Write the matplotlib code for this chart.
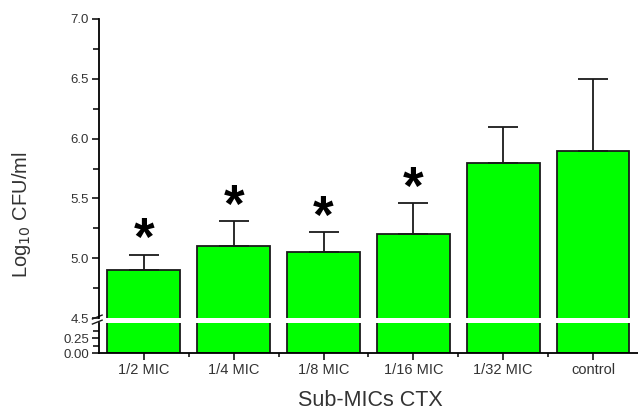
import numpy as np
import matplotlib.pyplot as plt

plt.rcParams['font.family'] = ['Liberation Sans', 'DejaVu Sans']

groups = ['1/2 MIC', '1/4 MIC', '1/8 MIC', '1/16 MIC', '1/32 MIC', 'control']
means = [4.90, 5.10, 5.05, 5.20, 5.80, 5.90]
errs = [0.13, 0.21, 0.17, 0.26, 0.30, 0.60]
signif = [True, True, True, True, False, False]

x = np.arange(len(groups))
green = '#00ff00'
edge = '#1a1a1a'
txt = '#333333'

fig = plt.figure(figsize=(6.38, 4.12), dpi=100)
ax_top = fig.add_axes([0.155, 0.228, 0.845, 0.726])
ax_bot = fig.add_axes([0.155, 0.143, 0.845, 0.073])

for ax in (ax_top, ax_bot):
    ax.bar(x, means, width=0.81, color=green, edgecolor=edge, linewidth=1.3)
    ax.set_xlim(-0.5, 5.5)
    ax.spines['top'].set_visible(False)
    ax.spines['right'].set_visible(False)
    ax.tick_params(axis='y', direction='out', length=5, width=1.1, labelsize=9.5,
                   labelcolor=txt, pad=2)
    ax.tick_params(axis='y', which='minor', direction='out', length=4, width=1.1)

# error bars (upper only) on the top part
ax_top.errorbar(x, means, yerr=[np.zeros(len(errs)), errs], fmt='none',
                ecolor=edge, elinewidth=1.3, capsize=11, capthick=1.3)
for xi, m, e, s in zip(x, means, errs, signif):
    if s:
        ax_top.annotate('*', xy=(xi, m + e), xytext=(0, -0.5), textcoords='offset points',
                        ha='center', va='baseline', fontsize=38, fontweight='bold',
                        color='black')

ax_top.set_ylim(4.5, 7.0)
ax_top.set_yticks([4.5, 5.0, 5.5, 6.0, 6.5, 7.0])
ax_top.set_yticks(np.arange(4.75, 7.0, 0.5), minor=True)
ax_top.set_yticklabels(['4.5', '5.0', '5.5', '6.0', '6.5', '7.0'])
ax_top.spines['bottom'].set_visible(False)
ax_top.set_xticks([])
ax_top.spines['left'].set_linewidth(1.3)

ax_bot.set_ylim(0, 0.5)
ax_bot.set_yticks([0.0, 0.25])
ax_bot.set_yticks([0.125, 0.375], minor=True)
ax_bot.set_yticklabels(['0.00', '0.25'])
ax_bot.spines['left'].set_linewidth(1.3)
ax_bot.spines['bottom'].set_linewidth(1.3)
ax_bot.set_xticks(x)
ax_bot.set_xticklabels(groups, fontsize=10.5, color=txt)
ax_bot.set_xticks(x[:-1] + 0.5, minor=True)
ax_bot.tick_params(axis='x', direction='out', length=5, width=1.1, pad=2)
ax_bot.tick_params(axis='x', which='minor', direction='out', length=3, width=1.1)

# break marks on the left axis
kw = dict(color=edge, lw=1.0, clip_on=False, transform=ax_top.transAxes)
ax_top.plot([-0.012, 0.006], [-0.003, 0.010], **kw)
ax_top.plot([-0.012, 0.006], [-0.020, -0.007], **kw)

fig.text(0.033, 0.48, 'Log$_{10}$ CFU/ml', rotation=90, ha='center', va='center',
         fontsize=14.5, color=txt)
fig.text(0.58, 0.027, 'Sub-MICs CTX', ha='center', va='center',
         fontsize=15.5, color=txt)

fig.savefig('out.png', dpi=100)
